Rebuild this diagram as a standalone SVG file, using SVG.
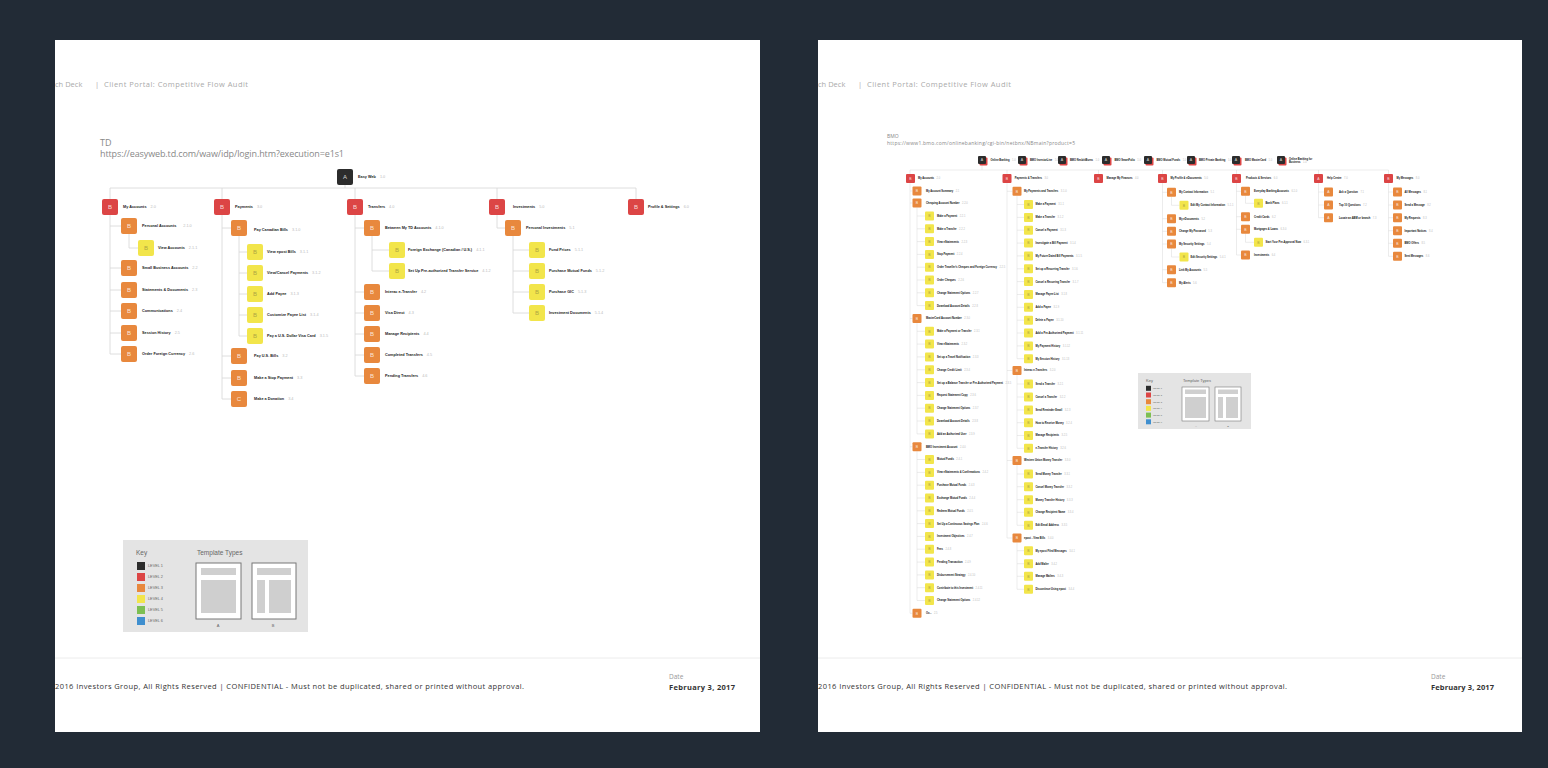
<svg xmlns="http://www.w3.org/2000/svg" width="1548" height="768" viewBox="0 0 1548 768">
<style>
.pg{fill:#fff}
.ln{fill:none;stroke:#d6d6d6;stroke-width:.8}
.lr{fill:none;stroke:#d9d9d9;stroke-width:.5}
.k1{fill:#2c2c2c}.k2{fill:#dc4545}.k3{fill:#e8883d}.k4{fill:#f2e54b}.k5{fill:#7dbf52}.k6{fill:#3f8fcf}
.L{font-family:"Liberation Sans",Arial,sans-serif;font-weight:bold;font-size:3.8px;fill:#222}
.R{font-family:"Liberation Sans",Arial,sans-serif;font-weight:bold;font-size:2.6px;fill:#111}
.n{font-weight:normal;fill:#bbb}
.bl{font-family:"Liberation Sans",Arial,sans-serif;font-size:6px;fill:#fff;fill-opacity:.8;text-anchor:middle}
.br{font-family:"Liberation Sans",Arial,sans-serif;font-size:3.5px;fill:#fff;fill-opacity:.8;text-anchor:middle}
.y{fill:#9a9340;fill-opacity:.8}
.pt{font-family:"Open Sans","Liberation Sans",sans-serif}
.hd{font-size:7.5px;fill:#aaa}
.ft{font-size:7.5px;fill:#333}
.kt{font-family:"Liberation Sans",Arial,sans-serif;fill:#666}
.tp{fill:#fff;stroke:#777}
.tg{fill:#cfcfcf}
</style>
<rect width="1548" height="768" fill="#222b36"/>
<rect class="pg" x="55" y="40" width="705" height="692"/>
<rect class="pg" x="818" y="40" width="704" height="692"/>

<!-- page chrome left -->
<g class="pt">
<text class="hd" x="55" y="87">ch Deck</text>
<text class="hd" x="95" y="87">|</text>
<text class="hd" x="104" y="87" textLength="144">Client Portal: Competitive Flow Audit</text>
<text x="100" y="145.7" font-size="9" fill="#888">TD</text>
<text x="100" y="156.5" font-size="9" fill="#888" textLength="244">https://easyweb.td.com/waw/idp/login.htm?execution=e1s1</text>
<line x1="55" y1="658" x2="760" y2="658" stroke="#ececec" stroke-width="1"/>
<text class="ft" x="55" y="688.5" textLength="469">2016 Investors Group, All Rights Reserved | CONFIDENTIAL - Must not be duplicated, shared or printed without approval.</text>
<text x="669" y="679" font-size="6.5" fill="#999">Date</text>
<text x="669" y="689.5" font-size="7.5" font-weight="bold" fill="#333" textLength="66">February 3, 2017</text>
</g>
<!-- page chrome right -->
<g class="pt">
<text class="hd" x="818" y="87">ch Deck</text>
<text class="hd" x="858" y="87">|</text>
<text class="hd" x="867" y="87" textLength="144">Client Portal: Competitive Flow Audit</text>
<text x="887" y="138" font-size="5" fill="#888">BMO</text>
<text x="887" y="145" font-size="5" fill="#888" textLength="188">https://www1.bmo.com/onlinebanking/cgi-bin/netbnx/NBmain?product=5</text>
<line x1="818" y1="658" x2="1522" y2="658" stroke="#ececec" stroke-width="1"/>
<text class="ft" x="818" y="688.5" textLength="469">2016 Investors Group, All Rights Reserved | CONFIDENTIAL - Must not be duplicated, shared or printed without approval.</text>
<text x="1431" y="679" font-size="6.5" fill="#999">Date</text>
<text x="1431" y="689.5" font-size="7.5" font-weight="bold" fill="#333" textLength="63">February 3, 2017</text>
</g>

<!-- connectors left -->
<g id="td-connectors" class="ln">
<path d="M345,185V188M110,188H636M110,188V354M222,188V399M355,188V376M497,188V228M636,188V199"/>
<path d="M110,226H121M110,268H121M110,290H121M110,311H121M110,333H121M110,354H121M129,234V248H138"/>
<path d="M222,228H231M222,356H231M222,378H231M222,399H231M239,236V336M239,252H247M239,273H247M239,294H247M239,315H247M239,336H247"/>
<path d="M355,228H364M355,292H364M355,313H364M355,334H364M355,355H364M355,376H364M372,236V271M372,250H389M372,271H389"/>
<path d="M497,228H505M513,236V313M513,250H529M513,271H529M513,292H529M513,313H529"/>
</g>

<!-- TD nodes -->
<g id="td-1-0"><rect class="k1" x="337" y="169" width="16" height="16" rx="2"/><text class="bl" x="345" y="179.1">A</text><text class="L" x="358" y="178.4">Easy Web<tspan class="n" dx="4">1.0</tspan></text></g>
<g id="td-2-0"><rect class="k2" x="102" y="199" width="16" height="16" rx="2"/><text class="bl" x="110" y="209.1">B</text><text class="L" x="123" y="208.4">My Accounts<tspan class="n" dx="4">2.0</tspan></text></g>
<g id="td-3-0"><rect class="k2" x="214" y="199" width="16" height="16" rx="2"/><text class="bl" x="222" y="209.1">B</text><text class="L" x="235" y="208.4">Payments<tspan class="n" dx="4">3.0</tspan></text></g>
<g id="td-4-0"><rect class="k2" x="347" y="199" width="16" height="16" rx="2"/><text class="bl" x="355" y="209.1">B</text><text class="L" x="368" y="208.4">Transfers<tspan class="n" dx="4">4.0</tspan></text></g>
<g id="td-5-0"><rect class="k2" x="489" y="199" width="16" height="16" rx="2"/><text class="bl" x="497" y="209.1">B</text><text class="L" x="513" y="208.4">Investments<tspan class="n" dx="4">5.0</tspan></text></g>
<g id="td-6-0"><rect class="k2" x="628" y="199" width="16" height="16" rx="2"/><text class="bl" x="636" y="209.1">B</text><text class="L" x="648" y="208.4">Profile &amp; Settings<tspan class="n" dx="4">6.0</tspan></text></g>

<g id="td-2-1-0"><rect class="k3" x="121" y="218" width="16" height="16" rx="2"/><text class="bl" x="129" y="228.1">B</text><text class="L" x="142" y="227.4">Personal Accounts<tspan class="n" dx="7">2.1.0</tspan></text></g>
<g id="td-2-1-1"><rect class="k4" x="138" y="240" width="16" height="16" rx="2"/><text class="bl y" x="146" y="250.1">B</text><text class="L" x="158" y="249.4">View Accounts<tspan class="n" dx="4">2.1.1</tspan></text></g>
<g id="td-2-2"><rect class="k3" x="121" y="260" width="16" height="16" rx="2"/><text class="bl" x="129" y="270.1">B</text><text class="L" x="142" y="269.4">Small Business Accounts<tspan class="n" dx="4">2.2</tspan></text></g>
<g id="td-2-3"><rect class="k3" x="121" y="282" width="16" height="16" rx="2"/><text class="bl" x="129" y="292.1">B</text><text class="L" x="142" y="291.4">Statements &amp; Documents<tspan class="n" dx="4">2.3</tspan></text></g>
<g id="td-2-4"><rect class="k3" x="121" y="303" width="16" height="16" rx="2"/><text class="bl" x="129" y="313.1">B</text><text class="L" x="142" y="312.4">Communications<tspan class="n" dx="4">2.4</tspan></text></g>
<g id="td-2-5"><rect class="k3" x="121" y="325" width="16" height="16" rx="2"/><text class="bl" x="129" y="335.1">B</text><text class="L" x="142" y="334.4">Session History<tspan class="n" dx="4">2.5</tspan></text></g>
<g id="td-2-6"><rect class="k3" x="121" y="346" width="16" height="16" rx="2"/><text class="bl" x="129" y="356.1">B</text><text class="L" x="142" y="355.4">Order Foreign Currency<tspan class="n" dx="4">2.6</tspan></text></g>

<g id="td-3-1-0"><rect class="k3" x="231" y="220" width="16" height="16" rx="2"/><text class="bl" x="239" y="230.1">B</text><text class="L" x="254" y="230.5">Pay Canadian Bills<tspan class="n" dx="4">3.1.0</tspan></text></g>
<g id="td-3-1-1"><rect class="k4" x="247" y="244" width="16" height="16" rx="2"/><text class="bl y" x="255" y="254.1">B</text><text class="L" x="267" y="253.4">View epost Bills<tspan class="n" dx="4">3.1.1</tspan></text></g>
<g id="td-3-1-2"><rect class="k4" x="247" y="265" width="16" height="16" rx="2"/><text class="bl y" x="255" y="275.1">B</text><text class="L" x="267" y="274.4">View/Cancel Payments<tspan class="n" dx="4">3.1.2</tspan></text></g>
<g id="td-3-1-3"><rect class="k4" x="247" y="286" width="16" height="16" rx="2"/><text class="bl y" x="255" y="296.1">B</text><text class="L" x="267" y="295.4">Add Payee<tspan class="n" dx="4">3.1.3</tspan></text></g>
<g id="td-3-1-4"><rect class="k4" x="247" y="307" width="16" height="16" rx="2"/><text class="bl y" x="255" y="317.1">B</text><text class="L" x="267" y="316.4">Customize Payee List<tspan class="n" dx="4">3.1.4</tspan></text></g>
<g id="td-3-1-5"><rect class="k4" x="247" y="328" width="16" height="16" rx="2"/><text class="bl y" x="255" y="338.1">B</text><text class="L" x="267" y="337.4">Pay a U.S. Dollar Visa Card<tspan class="n" dx="4">3.1.5</tspan></text></g>
<g id="td-3-2"><rect class="k3" x="231" y="348" width="16" height="16" rx="2"/><text class="bl" x="239" y="358.1">B</text><text class="L" x="254" y="357.4">Pay U.S. Bills<tspan class="n" dx="4">3.2</tspan></text></g>
<g id="td-3-3"><rect class="k3" x="231" y="370" width="16" height="16" rx="2"/><text class="bl" x="239" y="380.1">B</text><text class="L" x="254" y="379.4">Make a Stop Payment<tspan class="n" dx="4">3.3</tspan></text></g>
<g id="td-3-4"><rect class="k3" x="231" y="391" width="16" height="16" rx="2"/><text class="bl" x="239" y="401.1">C</text><text class="L" x="254" y="400.4">Make a Donation<tspan class="n" dx="4">3.4</tspan></text></g>

<g id="td-4-1-0"><rect class="k3" x="364" y="220" width="16" height="16" rx="2"/><text class="bl" x="372" y="230.1">B</text><text class="L" x="385" y="229.4">Between My TD Accounts<tspan class="n" dx="4">4.1.0</tspan></text></g>
<g id="td-4-1-1"><rect class="k4" x="389" y="242" width="16" height="16" rx="2"/><text class="bl y" x="397" y="252.1">B</text><text class="L" x="408" y="251.4">Foreign Exchange (Canadian / U.S.)<tspan class="n" dx="4">4.1.1</tspan></text></g>
<g id="td-4-1-2"><rect class="k4" x="389" y="263" width="16" height="16" rx="2"/><text class="bl y" x="397" y="273.1">B</text><text class="L" x="408" y="272.4">Set Up Pre-authorized Transfer Service<tspan class="n" dx="4">4.1.2</tspan></text></g>
<g id="td-4-2"><rect class="k3" x="364" y="284" width="16" height="16" rx="2"/><text class="bl" x="372" y="294.1">B</text><text class="L" x="385" y="293.4">Interac e-Transfer<tspan class="n" dx="4">4.2</tspan></text></g>
<g id="td-4-3"><rect class="k3" x="364" y="305" width="16" height="16" rx="2"/><text class="bl" x="372" y="315.1">B</text><text class="L" x="385" y="314.4">Visa Direct<tspan class="n" dx="4">4.3</tspan></text></g>
<g id="td-4-4"><rect class="k3" x="364" y="326" width="16" height="16" rx="2"/><text class="bl" x="372" y="336.1">B</text><text class="L" x="385" y="335.4">Manage Recipients<tspan class="n" dx="4">4.4</tspan></text></g>
<g id="td-4-5"><rect class="k3" x="364" y="347" width="16" height="16" rx="2"/><text class="bl" x="372" y="357.1">B</text><text class="L" x="385" y="356.4">Completed Transfers<tspan class="n" dx="4">4.5</tspan></text></g>
<g id="td-4-6"><rect class="k3" x="364" y="368" width="16" height="16" rx="2"/><text class="bl" x="372" y="378.1">B</text><text class="L" x="385" y="377.4">Pending Transfers<tspan class="n" dx="4">4.6</tspan></text></g>

<g id="td-5-1"><rect class="k3" x="505" y="220" width="16" height="16" rx="2"/><text class="bl" x="513" y="230.1">B</text><text class="L" x="526" y="229.4">Personal Investments<tspan class="n" dx="4">5.1</tspan></text></g>
<g id="td-5-1-1"><rect class="k4" x="529" y="242" width="16" height="16" rx="2"/><text class="bl y" x="537" y="252.1">B</text><text class="L" x="549" y="251.4">Fund Prices<tspan class="n" dx="4">5.1.1</tspan></text></g>
<g id="td-5-1-2"><rect class="k4" x="529" y="263" width="16" height="16" rx="2"/><text class="bl y" x="537" y="273.1">B</text><text class="L" x="549" y="272.4">Purchase Mutual Funds<tspan class="n" dx="4">5.1.2</tspan></text></g>
<g id="td-5-1-3"><rect class="k4" x="529" y="284" width="16" height="16" rx="2"/><text class="bl y" x="537" y="294.1">B</text><text class="L" x="549" y="293.4">Purchase GIC<tspan class="n" dx="4">5.1.3</tspan></text></g>
<g id="td-5-1-4"><rect class="k4" x="529" y="305" width="16" height="16" rx="2"/><text class="bl y" x="537" y="315.1">B</text><text class="L" x="549" y="314.4">Investment Documents<tspan class="n" dx="4">5.1.4</tspan></text></g>

<!-- key left -->
<g id="td-key">
<rect x="123" y="540" width="185" height="92" fill="#e4e4e4"/>
<text class="kt" x="136" y="555" font-size="6.5">Key</text>
<rect class="k1" x="137" y="562" width="8" height="8"/><text class="kt" x="148" y="567.2" font-size="3.8">LEVEL 1</text>
<rect class="k2" x="137" y="573" width="8" height="8"/><text class="kt" x="148" y="578.2" font-size="3.8">LEVEL 2</text>
<rect class="k3" x="137" y="584" width="8" height="8"/><text class="kt" x="148" y="589.2" font-size="3.8">LEVEL 3</text>
<rect class="k4" x="137" y="595" width="8" height="8"/><text class="kt" x="148" y="600.2" font-size="3.8">LEVEL 4</text>
<rect class="k5" x="137" y="606" width="8" height="8"/><text class="kt" x="148" y="611.2" font-size="3.8">LEVEL 5</text>
<rect class="k6" x="137" y="617" width="8" height="8"/><text class="kt" x="148" y="622.2" font-size="3.8">LEVEL 6</text>
<text class="kt" x="197" y="555" font-size="6.5">Template Types</text>
<rect class="tp" x="196" y="563" width="45" height="56"/><rect class="tg" x="201" y="568" width="35" height="7"/><rect class="tg" x="201" y="580" width="35" height="33"/>
<rect class="tp" x="252" y="563" width="44" height="56"/><rect class="tg" x="257" y="568" width="34" height="7"/><rect class="tg" x="257" y="580" width="8" height="33"/><rect class="tg" x="269" y="580" width="22" height="33"/>
<text class="kt" x="218" y="627" font-size="4" text-anchor="middle">A</text>
<text class="kt" x="273" y="627" font-size="4" text-anchor="middle">B</text>
</g>

<!-- connectors right -->
<g id="bmo-connectors" class="lr">
<path d="M982,164V170M910,170H1388.5M910,170V613.3M1007,170V538M1098.5,170V174M1162.5,170V282.7M1236.5,170V255M1318.5,170V217.7M1388.5,170V256.3"/>
<path d="M910,191H912.5M910,203H912.5M910,318.5H912.5M910,446.7H912.5M910,613.3H912.5"/>
<path d="M917,207.5V305.6M917,323V433.9M917,451.2V600.5"/>
<path d="M917,216H925M917,228.8H925M917,241.6H925M917,254.4H925M917,267.2H925M917,280H925M917,292.8H925M917,305.6H925"/>
<path d="M917,331.3H925M917,344.1H925M917,356.9H925M917,369.8H925M917,382.6H925M917,395.4H925M917,408.2H925M917,421H925M917,433.9H925"/>
<path d="M917,459.5H925M917,472.4H925M917,485.2H925M917,498H925M917,510.8H925M917,523.6H925M917,536.4H925M917,549.2H925M917,562.1H925M917,574.9H925M917,587.7H925M917,600.5H925"/>
<path d="M1007,191.3H1012.5M1007,370.5H1012.5M1007,460.5H1012.5M1007,538H1012.5"/>
<path d="M1017,195.8V358.7M1017,375V448.3M1017,465V525.3M1017,542.5V589.3"/>
<path d="M1017,204.5H1024M1017,217.4H1024M1017,230.2H1024M1017,243.1H1024M1017,255.9H1024M1017,268.8H1024M1017,281.6H1024M1017,294.5H1024M1017,307.3H1024M1017,320.2H1024M1017,333H1024M1017,345.9H1024M1017,358.7H1024"/>
<path d="M1017,384H1024M1017,397H1024M1017,410H1024M1017,422.7H1024M1017,435.5H1024M1017,448.3H1024M1017,474H1024M1017,486.7H1024M1017,499.7H1024M1017,512.3H1024M1017,525.3H1024"/>
<path d="M1017,550.7H1024M1017,563.7H1024M1017,576.3H1024M1017,589.3H1024"/>
<path d="M1162.5,192.3H1167M1162.5,218.7H1167M1162.5,231.3H1167M1162.5,244H1167M1162.5,269.7H1167M1162.5,282.7H1167M1171.5,196.8V205.3H1179.5M1171.5,248.5V257H1179.5"/>
<path d="M1236.5,191.3H1241M1236.5,216.7H1241M1236.5,229.3H1241M1236.5,255H1241M1245.5,195.8V203.3H1254M1245.5,233.8V242.3H1254"/>
<path d="M1318.5,192H1324M1318.5,205H1324M1318.5,217.7H1324"/>
<path d="M1388.5,192H1393M1388.5,205H1393M1388.5,217.7H1393M1388.5,230.7H1393M1388.5,243.3H1393M1388.5,256.3H1393"/>
</g>

<!-- BMO top-level nodes -->
<g id="bmo-1-online"><rect class="k2" x="979.5" y="157.5" width="8" height="8" rx="1"/><rect class="k1" x="978" y="156" width="8" height="8" rx="1"/><text class="br" x="982" y="161.2">A</text><text class="R" x="990.5" y="160.9">Online Banking<tspan class="n" dx="2.5">1.0</tspan></text></g>
<g id="bmo-1-investorline"><rect class="k2" x="1019.5" y="157.5" width="8" height="8" rx="1"/><rect class="k1" x="1018" y="156" width="8" height="8" rx="1"/><text class="br" x="1022" y="161.2">A</text><text class="R" x="1030" y="160.9">BMO InvestorLine<tspan class="n" dx="2.5">1.0</tspan></text></g>
<g id="bmo-1-nesbitt"><rect class="k2" x="1059.5" y="157.5" width="8" height="8" rx="1"/><rect class="k1" x="1058" y="156" width="8" height="8" rx="1"/><text class="br" x="1062" y="161.2">A</text><text class="R" x="1070" y="160.9">BMO NesbittBurns<tspan class="n" dx="2.5">1.0</tspan></text></g>
<g id="bmo-1-smartfolio"><rect class="k2" x="1103.5" y="157.5" width="8" height="8" rx="1"/><rect class="k1" x="1102" y="156" width="8" height="8" rx="1"/><text class="br" x="1106" y="161.2">A</text><text class="R" x="1114.5" y="160.9">BMO SmartFolio<tspan class="n" dx="2.5">1.0</tspan></text></g>
<g id="bmo-1-mutual"><rect class="k2" x="1145.5" y="157.5" width="8" height="8" rx="1"/><rect class="k1" x="1144" y="156" width="8" height="8" rx="1"/><text class="br" x="1148" y="161.2">A</text><text class="R" x="1156.5" y="160.9">BMO Mutual Funds<tspan class="n" dx="2.5">1.0</tspan></text></g>
<g id="bmo-1-private"><rect class="k2" x="1188.5" y="157.5" width="8" height="8" rx="1"/><rect class="k1" x="1187" y="156" width="8" height="8" rx="1"/><text class="br" x="1191" y="161.2">A</text><text class="R" x="1199" y="160.9">BMO Private Banking<tspan class="n" dx="2.5">1.0</tspan></text></g>
<g id="bmo-1-mastercard"><rect class="k2" x="1233.5" y="157.5" width="8" height="8" rx="1"/><rect class="k1" x="1232" y="156" width="8" height="8" rx="1"/><text class="br" x="1236" y="161.2">A</text><text class="R" x="1245" y="160.9">BMO MasterCard<tspan class="n" dx="2.5">1.0</tspan></text></g>
<g id="bmo-1-business"><rect class="k2" x="1278.5" y="157.5" width="8" height="8" rx="1"/><rect class="k1" x="1277" y="156" width="8" height="8" rx="1"/><text class="br" x="1281" y="161.2">A</text><text class="R" x="1289" y="159.7">Online Banking for</text><text class="R" x="1289" y="163.3">Business<tspan class="n" dx="2.5">1.0</tspan></text></g>

<!-- BMO level 2 -->
<g id="bmo-2-0"><rect class="k2" x="906" y="174" width="9" height="9" rx="1"/><text class="br" x="910.5" y="179.7">B</text><text class="R" x="918" y="179.4">My Accounts<tspan class="n" dx="2.5">2.0</tspan></text></g>
<g id="bmo-3-0"><rect class="k2" x="1002.5" y="174" width="9" height="9" rx="1"/><text class="br" x="1007" y="179.7">B</text><text class="R" x="1014.7" y="179.4">Payments &amp; Transfers<tspan class="n" dx="2.5">3.0</tspan></text></g>
<g id="bmo-4-0"><rect class="k2" x="1094" y="174" width="9" height="9" rx="1"/><text class="br" x="1098.5" y="179.7">B</text><text class="R" x="1106.5" y="179.4">Manage My Finances<tspan class="n" dx="2.5">4.0</tspan></text></g>
<g id="bmo-5-0"><rect class="k2" x="1158" y="174" width="9" height="9" rx="1"/><text class="br" x="1162.5" y="179.7">B</text><text class="R" x="1170.5" y="179.4">My Profile &amp; eDocuments<tspan class="n" dx="2.5">5.0</tspan></text></g>
<g id="bmo-6-0"><rect class="k2" x="1232" y="174" width="9" height="9" rx="1"/><text class="br" x="1236.5" y="179.7">B</text><text class="R" x="1246" y="179.4">Products &amp; Services<tspan class="n" dx="2.5">6.0</tspan></text></g>
<g id="bmo-7-0"><rect class="k2" x="1314" y="174" width="9" height="9" rx="1"/><text class="br" x="1318.5" y="179.7">A</text><text class="R" x="1327" y="179.4">Help Centre<tspan class="n" dx="2.5">7.0</tspan></text></g>
<g id="bmo-8-0"><rect class="k2" x="1384" y="174" width="9" height="9" rx="1"/><text class="br" x="1388.5" y="179.7">B</text><text class="R" x="1396.5" y="179.4">My Messages<tspan class="n" dx="2.5">8.0</tspan></text></g>

<!-- BMO My Accounts -->
<g id="bmo-2-1"><rect class="k3" x="912.5" y="186.5" width="9" height="9" rx="1"/><text class="br" x="917" y="192.2">B</text><text class="R" x="926" y="191.9">My Account Summary<tspan class="n" dx="2.5">2.1</tspan></text></g>
<g id="bmo-2-2-0"><rect class="k3" x="912.5" y="198.5" width="9" height="9" rx="1"/><text class="br" x="917" y="204.2">B</text><text class="R" x="926" y="203.9">Chequing Account Number<tspan class="n" dx="2.5">2.2.0</tspan></text></g>
<g id="bmo-2-2-1"><rect class="k4" x="925" y="211.5" width="9" height="9" rx="1"/><text class="br y" x="929.5" y="217.2">B</text><text class="R" x="937" y="216.9">Make a Payment<tspan class="n" dx="2.5">2.2.1</tspan></text></g>
<g id="bmo-2-2-2"><rect class="k4" x="925" y="224.3" width="9" height="9" rx="1"/><text class="br y" x="929.5" y="230">B</text><text class="R" x="937" y="229.7">Make a Transfer<tspan class="n" dx="2.5">2.2.2</tspan></text></g>
<g id="bmo-2-2-3"><rect class="k4" x="925" y="237.1" width="9" height="9" rx="1"/><text class="br y" x="929.5" y="242.8">B</text><text class="R" x="937" y="242.5">View eStatements<tspan class="n" dx="2.5">2.2.3</tspan></text></g>
<g id="bmo-2-2-4"><rect class="k4" x="925" y="249.9" width="9" height="9" rx="1"/><text class="br y" x="929.5" y="255.6">B</text><text class="R" x="937" y="255.3">Stop Payment<tspan class="n" dx="2.5">2.2.4</tspan></text></g>
<g id="bmo-2-2-5"><rect class="k4" x="925" y="262.7" width="9" height="9" rx="1"/><text class="br y" x="929.5" y="268.4">B</text><text class="R" x="937" y="268.1">Order Traveller's Cheques and Foreign Currency<tspan class="n" dx="2.5">2.2.5</tspan></text></g>
<g id="bmo-2-2-6"><rect class="k4" x="925" y="275.5" width="9" height="9" rx="1"/><text class="br y" x="929.5" y="281.2">B</text><text class="R" x="937" y="280.9">Order Cheques<tspan class="n" dx="2.5">2.2.6</tspan></text></g>
<g id="bmo-2-2-7"><rect class="k4" x="925" y="288.3" width="9" height="9" rx="1"/><text class="br y" x="929.5" y="294">B</text><text class="R" x="937" y="293.7">Change Statement Options<tspan class="n" dx="2.5">2.2.7</tspan></text></g>
<g id="bmo-2-2-8"><rect class="k4" x="925" y="301.1" width="9" height="9" rx="1"/><text class="br y" x="929.5" y="306.8">B</text><text class="R" x="937" y="306.5">Download Account Details<tspan class="n" dx="2.5">2.2.8</tspan></text></g>
<g id="bmo-2-3-0"><rect class="k3" x="912.5" y="314" width="9" height="9" rx="1"/><text class="br" x="917" y="319.7">B</text><text class="R" x="926" y="319.4">MasterCard Account Number<tspan class="n" dx="2.5">2.3.0</tspan></text></g>
<g id="bmo-2-3-1"><rect class="k4" x="925" y="326.8" width="9" height="9" rx="1"/><text class="br y" x="929.5" y="332.5">B</text><text class="R" x="937" y="332.2">Make a Payment or Transfer<tspan class="n" dx="2.5">2.3.1</tspan></text></g>
<g id="bmo-2-3-2"><rect class="k4" x="925" y="339.6" width="9" height="9" rx="1"/><text class="br y" x="929.5" y="345.3">B</text><text class="R" x="937" y="345">View eStatements<tspan class="n" dx="2.5">2.3.2</tspan></text></g>
<g id="bmo-2-3-3"><rect class="k4" x="925" y="352.4" width="9" height="9" rx="1"/><text class="br y" x="929.5" y="358.1">B</text><text class="R" x="937" y="357.8">Set up a Travel Notification<tspan class="n" dx="2.5">2.3.3</tspan></text></g>
<g id="bmo-2-3-4"><rect class="k4" x="925" y="365.3" width="9" height="9" rx="1"/><text class="br y" x="929.5" y="371">B</text><text class="R" x="937" y="370.7">Change Credit Limit<tspan class="n" dx="2.5">2.3.4</tspan></text></g>
<g id="bmo-2-3-5"><rect class="k4" x="925" y="378.1" width="9" height="9" rx="1"/><text class="br y" x="929.5" y="383.8">B</text><text class="R" x="937" y="383.5">Set up a Balance Transfer or Pre-Authorized Payment<tspan class="n" dx="2.5">2.3.5</tspan></text></g>
<g id="bmo-2-3-6"><rect class="k4" x="925" y="390.9" width="9" height="9" rx="1"/><text class="br y" x="929.5" y="396.6">B</text><text class="R" x="937" y="396.3">Request Statement Copy<tspan class="n" dx="2.5">2.3.6</tspan></text></g>
<g id="bmo-2-3-7"><rect class="k4" x="925" y="403.7" width="9" height="9" rx="1"/><text class="br y" x="929.5" y="409.4">B</text><text class="R" x="937" y="409.1">Change Statement Options<tspan class="n" dx="2.5">2.3.7</tspan></text></g>
<g id="bmo-2-3-8"><rect class="k4" x="925" y="416.5" width="9" height="9" rx="1"/><text class="br y" x="929.5" y="422.2">B</text><text class="R" x="937" y="421.9">Download Account Details<tspan class="n" dx="2.5">2.3.8</tspan></text></g>
<g id="bmo-2-3-9"><rect class="k4" x="925" y="429.4" width="9" height="9" rx="1"/><text class="br y" x="929.5" y="435.1">B</text><text class="R" x="937" y="434.8">Add an Authorized User<tspan class="n" dx="2.5">2.3.9</tspan></text></g>
<g id="bmo-2-4-0"><rect class="k3" x="912.5" y="442.2" width="9" height="9" rx="1"/><text class="br" x="917" y="447.9">B</text><text class="R" x="926" y="447.6">BMO Investment Account<tspan class="n" dx="2.5">2.4.0</tspan></text></g>
<g id="bmo-2-4-1"><rect class="k4" x="925" y="455" width="9" height="9" rx="1"/><text class="br y" x="929.5" y="460.7">B</text><text class="R" x="937" y="460.4">Mutual Funds<tspan class="n" dx="2.5">2.4.1</tspan></text></g>
<g id="bmo-2-4-2"><rect class="k4" x="925" y="467.9" width="9" height="9" rx="1"/><text class="br y" x="929.5" y="473.6">B</text><text class="R" x="937" y="473.3">View eStatements &amp; Confirmations<tspan class="n" dx="2.5">2.4.2</tspan></text></g>
<g id="bmo-2-4-3"><rect class="k4" x="925" y="480.7" width="9" height="9" rx="1"/><text class="br y" x="929.5" y="486.4">B</text><text class="R" x="937" y="486.1">Purchase Mutual Funds<tspan class="n" dx="2.5">2.4.3</tspan></text></g>
<g id="bmo-2-4-4"><rect class="k4" x="925" y="493.5" width="9" height="9" rx="1"/><text class="br y" x="929.5" y="499.2">B</text><text class="R" x="937" y="498.9">Exchange Mutual Funds<tspan class="n" dx="2.5">2.4.4</tspan></text></g>
<g id="bmo-2-4-5"><rect class="k4" x="925" y="506.3" width="9" height="9" rx="1"/><text class="br y" x="929.5" y="512">B</text><text class="R" x="937" y="511.7">Redeem Mutual Funds<tspan class="n" dx="2.5">2.4.5</tspan></text></g>
<g id="bmo-2-4-6"><rect class="k4" x="925" y="519.1" width="9" height="9" rx="1"/><text class="br y" x="929.5" y="524.8">B</text><text class="R" x="937" y="524.5">Set Up a Continuous Savings Plan<tspan class="n" dx="2.5">2.4.6</tspan></text></g>
<g id="bmo-2-4-7"><rect class="k4" x="925" y="531.9" width="9" height="9" rx="1"/><text class="br y" x="929.5" y="537.6">B</text><text class="R" x="937" y="537.3">Investment Objectives<tspan class="n" dx="2.5">2.4.7</tspan></text></g>
<g id="bmo-2-4-8"><rect class="k4" x="925" y="544.7" width="9" height="9" rx="1"/><text class="br y" x="929.5" y="550.4">B</text><text class="R" x="937" y="550.1">Fees<tspan class="n" dx="2.5">2.4.8</tspan></text></g>
<g id="bmo-2-4-9"><rect class="k4" x="925" y="557.6" width="9" height="9" rx="1"/><text class="br y" x="929.5" y="563.3">B</text><text class="R" x="937" y="563">Pending Transaction<tspan class="n" dx="2.5">2.4.9</tspan></text></g>
<g id="bmo-2-4-10"><rect class="k4" x="925" y="570.4" width="9" height="9" rx="1"/><text class="br y" x="929.5" y="576.1">B</text><text class="R" x="937" y="575.8">Disbursement Strategy<tspan class="n" dx="2.5">2.4.10</tspan></text></g>
<g id="bmo-2-4-11"><rect class="k4" x="925" y="583.2" width="9" height="9" rx="1"/><text class="br y" x="929.5" y="588.9">B</text><text class="R" x="937" y="588.6">Contribute to this Investment<tspan class="n" dx="2.5">2.4.11</tspan></text></g>
<g id="bmo-2-4-12"><rect class="k4" x="925" y="596" width="9" height="9" rx="1"/><text class="br y" x="929.5" y="601.7">B</text><text class="R" x="937" y="601.4">Change Statement Options<tspan class="n" dx="2.5">2.4.12</tspan></text></g>
<g id="bmo-2-5"><rect class="k3" x="912.5" y="608.8" width="9" height="9" rx="1"/><text class="br" x="917" y="614.5">B</text><text class="R" x="926" y="614.2">Ov...<tspan class="n" dx="2.5">2.5</tspan></text></g>

<!-- BMO Payments & Transfers -->
<g id="bmo-3-1-0"><rect class="k3" x="1012.5" y="186.8" width="9" height="9" rx="1"/><text class="br" x="1017" y="192.5">B</text><text class="R" x="1024" y="192.2">My Payments and Transfers<tspan class="n" dx="2.5">3.1.0</tspan></text></g>
<g id="bmo-3-1-1"><rect class="k4" x="1024" y="200" width="9" height="9" rx="1"/><text class="br y" x="1028.5" y="205.7">B</text><text class="R" x="1035.5" y="205.4">Make a Payment<tspan class="n" dx="2.5">3.1.1</tspan></text></g>
<g id="bmo-3-1-2"><rect class="k4" x="1024" y="212.9" width="9" height="9" rx="1"/><text class="br y" x="1028.5" y="218.6">B</text><text class="R" x="1035.5" y="218.3">Make a Transfer<tspan class="n" dx="2.5">3.1.2</tspan></text></g>
<g id="bmo-3-1-3"><rect class="k4" x="1024" y="225.7" width="9" height="9" rx="1"/><text class="br y" x="1028.5" y="231.4">B</text><text class="R" x="1035.5" y="231.1">Cancel a Payment<tspan class="n" dx="2.5">3.1.3</tspan></text></g>
<g id="bmo-3-1-4"><rect class="k4" x="1024" y="238.6" width="9" height="9" rx="1"/><text class="br y" x="1028.5" y="244.3">B</text><text class="R" x="1035.5" y="244">Investigate a Bill Payment<tspan class="n" dx="2.5">3.1.4</tspan></text></g>
<g id="bmo-3-1-5"><rect class="k4" x="1024" y="251.4" width="9" height="9" rx="1"/><text class="br y" x="1028.5" y="257.1">B</text><text class="R" x="1035.5" y="256.8">My Future Dated Bill Payments<tspan class="n" dx="2.5">3.1.5</tspan></text></g>
<g id="bmo-3-1-6"><rect class="k4" x="1024" y="264.3" width="9" height="9" rx="1"/><text class="br y" x="1028.5" y="270">B</text><text class="R" x="1035.5" y="269.7">Set up a Recurring Transfer<tspan class="n" dx="2.5">3.1.6</tspan></text></g>
<g id="bmo-3-1-7"><rect class="k4" x="1024" y="277.1" width="9" height="9" rx="1"/><text class="br y" x="1028.5" y="282.8">B</text><text class="R" x="1035.5" y="282.5">Cancel a Recurring Transfer<tspan class="n" dx="2.5">3.1.7</tspan></text></g>
<g id="bmo-3-1-8"><rect class="k4" x="1024" y="290" width="9" height="9" rx="1"/><text class="br y" x="1028.5" y="295.7">B</text><text class="R" x="1035.5" y="295.4">Manage Payee List<tspan class="n" dx="2.5">3.1.8</tspan></text></g>
<g id="bmo-3-1-9"><rect class="k4" x="1024" y="302.8" width="9" height="9" rx="1"/><text class="br y" x="1028.5" y="308.5">B</text><text class="R" x="1035.5" y="308.2">Add a Payee<tspan class="n" dx="2.5">3.1.9</tspan></text></g>
<g id="bmo-3-1-10"><rect class="k4" x="1024" y="315.7" width="9" height="9" rx="1"/><text class="br y" x="1028.5" y="321.4">B</text><text class="R" x="1035.5" y="321.1">Delete a Payee<tspan class="n" dx="2.5">3.1.10</tspan></text></g>
<g id="bmo-3-1-11"><rect class="k4" x="1024" y="328.5" width="9" height="9" rx="1"/><text class="br y" x="1028.5" y="334.2">B</text><text class="R" x="1035.5" y="333.9">Add a Pre-Authorized Payment<tspan class="n" dx="2.5">3.1.11</tspan></text></g>
<g id="bmo-3-1-12"><rect class="k4" x="1024" y="341.4" width="9" height="9" rx="1"/><text class="br y" x="1028.5" y="347.1">B</text><text class="R" x="1035.5" y="346.8">My Payment History<tspan class="n" dx="2.5">3.1.12</tspan></text></g>
<g id="bmo-3-1-13"><rect class="k4" x="1024" y="354.2" width="9" height="9" rx="1"/><text class="br y" x="1028.5" y="359.9">B</text><text class="R" x="1035.5" y="359.6">My Session History<tspan class="n" dx="2.5">3.1.13</tspan></text></g>
<g id="bmo-3-2-0"><rect class="k3" x="1012.5" y="366" width="9" height="9" rx="1"/><text class="br" x="1017" y="371.7">B</text><text class="R" x="1024" y="371.4">Interac e-Transfers<tspan class="n" dx="2.5">3.2.0</tspan></text></g>
<g id="bmo-3-2-1"><rect class="k4" x="1024" y="379.5" width="9" height="9" rx="1"/><text class="br y" x="1028.5" y="385.2">B</text><text class="R" x="1035.5" y="384.9">Send a Transfer<tspan class="n" dx="2.5">3.2.1</tspan></text></g>
<g id="bmo-3-2-2"><rect class="k4" x="1024" y="392.5" width="9" height="9" rx="1"/><text class="br y" x="1028.5" y="398.2">B</text><text class="R" x="1035.5" y="397.9">Cancel a Transfer<tspan class="n" dx="2.5">3.2.2</tspan></text></g>
<g id="bmo-3-2-3"><rect class="k4" x="1024" y="405.5" width="9" height="9" rx="1"/><text class="br y" x="1028.5" y="411.2">B</text><text class="R" x="1035.5" y="410.9">Send Reminder Email<tspan class="n" dx="2.5">3.2.3</tspan></text></g>
<g id="bmo-3-2-4"><rect class="k4" x="1024" y="418.2" width="9" height="9" rx="1"/><text class="br y" x="1028.5" y="423.9">B</text><text class="R" x="1035.5" y="423.6">How to Receive Money<tspan class="n" dx="2.5">3.2.4</tspan></text></g>
<g id="bmo-3-2-5"><rect class="k4" x="1024" y="431" width="9" height="9" rx="1"/><text class="br y" x="1028.5" y="436.7">B</text><text class="R" x="1035.5" y="436.4">Manage Recipients<tspan class="n" dx="2.5">3.2.5</tspan></text></g>
<g id="bmo-3-2-6"><rect class="k4" x="1024" y="443.8" width="9" height="9" rx="1"/><text class="br y" x="1028.5" y="449.5">B</text><text class="R" x="1035.5" y="449.2">e-Transfer History<tspan class="n" dx="2.5">3.2.6</tspan></text></g>
<g id="bmo-3-3-0"><rect class="k3" x="1012.5" y="456" width="9" height="9" rx="1"/><text class="br" x="1017" y="461.7">B</text><text class="R" x="1024" y="461.4">Western Union Money Transfer<tspan class="n" dx="2.5">3.3.0</tspan></text></g>
<g id="bmo-3-3-1"><rect class="k4" x="1024" y="469.5" width="9" height="9" rx="1"/><text class="br y" x="1028.5" y="475.2">B</text><text class="R" x="1035.5" y="474.9">Send Money Transfer<tspan class="n" dx="2.5">3.3.1</tspan></text></g>
<g id="bmo-3-3-2"><rect class="k4" x="1024" y="482.2" width="9" height="9" rx="1"/><text class="br y" x="1028.5" y="487.9">B</text><text class="R" x="1035.5" y="487.6">Cancel Money Transfer<tspan class="n" dx="2.5">3.3.2</tspan></text></g>
<g id="bmo-3-3-3"><rect class="k4" x="1024" y="495.2" width="9" height="9" rx="1"/><text class="br y" x="1028.5" y="500.9">B</text><text class="R" x="1035.5" y="500.6">Money Transfer History<tspan class="n" dx="2.5">3.3.3</tspan></text></g>
<g id="bmo-3-3-4"><rect class="k4" x="1024" y="507.8" width="9" height="9" rx="1"/><text class="br y" x="1028.5" y="513.5">B</text><text class="R" x="1035.5" y="513.2">Change Recipient Name<tspan class="n" dx="2.5">3.3.4</tspan></text></g>
<g id="bmo-3-3-5"><rect class="k4" x="1024" y="520.8" width="9" height="9" rx="1"/><text class="br y" x="1028.5" y="526.5">B</text><text class="R" x="1035.5" y="526.2">Edit Email Address<tspan class="n" dx="2.5">3.3.5</tspan></text></g>
<g id="bmo-3-4-0"><rect class="k3" x="1012.5" y="533.5" width="9" height="9" rx="1"/><text class="br" x="1017" y="539.2">B</text><text class="R" x="1024" y="538.9">epost - View Bills<tspan class="n" dx="2.5">3.4.0</tspan></text></g>
<g id="bmo-3-4-1"><rect class="k4" x="1024" y="546.2" width="9" height="9" rx="1"/><text class="br y" x="1028.5" y="551.9">B</text><text class="R" x="1035.5" y="551.6">My epost Filed Messages<tspan class="n" dx="2.5">3.4.1</tspan></text></g>
<g id="bmo-3-4-2"><rect class="k4" x="1024" y="559.2" width="9" height="9" rx="1"/><text class="br y" x="1028.5" y="564.9">B</text><text class="R" x="1035.5" y="564.6">Add Mailer<tspan class="n" dx="2.5">3.4.2</tspan></text></g>
<g id="bmo-3-4-3"><rect class="k4" x="1024" y="571.8" width="9" height="9" rx="1"/><text class="br y" x="1028.5" y="577.5">B</text><text class="R" x="1035.5" y="577.2">Manage Mailers<tspan class="n" dx="2.5">3.4.3</tspan></text></g>
<g id="bmo-3-4-4"><rect class="k4" x="1024" y="584.8" width="9" height="9" rx="1"/><text class="br y" x="1028.5" y="590.5">B</text><text class="R" x="1035.5" y="590.2">Discontinue Using epost<tspan class="n" dx="2.5">3.4.4</tspan></text></g>

<!-- BMO Profile -->
<g id="bmo-5-1"><rect class="k3" x="1167" y="187.8" width="9" height="9" rx="1"/><text class="br" x="1171.5" y="193.5">B</text><text class="R" x="1179" y="193.2">My Contact Information<tspan class="n" dx="2.5">5.1</tspan></text></g>
<g id="bmo-5-1-1"><rect class="k4" x="1179.5" y="200.8" width="9" height="9" rx="1"/><text class="br y" x="1184" y="206.5">B</text><text class="R" x="1190.5" y="206.2">Edit My Contact Information<tspan class="n" dx="2.5">5.1.1</tspan></text></g>
<g id="bmo-5-2"><rect class="k3" x="1167" y="214.2" width="9" height="9" rx="1"/><text class="br" x="1171.5" y="219.9">B</text><text class="R" x="1179" y="219.6">My eDocuments<tspan class="n" dx="2.5">5.2</tspan></text></g>
<g id="bmo-5-3"><rect class="k3" x="1167" y="226.8" width="9" height="9" rx="1"/><text class="br" x="1171.5" y="232.5">B</text><text class="R" x="1179" y="232.2">Change My Password<tspan class="n" dx="2.5">5.3</tspan></text></g>
<g id="bmo-5-4"><rect class="k3" x="1167" y="239.5" width="9" height="9" rx="1"/><text class="br" x="1171.5" y="245.2">B</text><text class="R" x="1179" y="244.9">My Security Settings<tspan class="n" dx="2.5">5.4</tspan></text></g>
<g id="bmo-5-4-1"><rect class="k4" x="1179.5" y="252.5" width="9" height="9" rx="1"/><text class="br y" x="1184" y="258.2">B</text><text class="R" x="1190.5" y="257.9">Edit Security Settings<tspan class="n" dx="2.5">5.4.1</tspan></text></g>
<g id="bmo-5-5"><rect class="k3" x="1167" y="265.2" width="9" height="9" rx="1"/><text class="br" x="1171.5" y="270.9">B</text><text class="R" x="1179" y="270.6">Link My Accounts<tspan class="n" dx="2.5">5.5</tspan></text></g>
<g id="bmo-5-6"><rect class="k3" x="1167" y="278.2" width="9" height="9" rx="1"/><text class="br" x="1171.5" y="283.9">B</text><text class="R" x="1179" y="283.6">My Alerts<tspan class="n" dx="2.5">5.6</tspan></text></g>

<!-- BMO Products -->
<g id="bmo-6-1-0"><rect class="k3" x="1241" y="186.8" width="9" height="9" rx="1"/><text class="br" x="1245.5" y="192.5">B</text><text class="R" x="1254" y="192.2">Everyday Banking Accounts<tspan class="n" dx="2.5">6.1.0</tspan></text></g>
<g id="bmo-6-1-1"><rect class="k4" x="1254" y="198.8" width="9" height="9" rx="1"/><text class="br y" x="1258.5" y="204.5">B</text><text class="R" x="1265.5" y="204.2">Bank Plans<tspan class="n" dx="2.5">6.1.1</tspan></text></g>
<g id="bmo-6-2"><rect class="k3" x="1241" y="212.2" width="9" height="9" rx="1"/><text class="br" x="1245.5" y="217.9">B</text><text class="R" x="1254" y="217.6">Credit Cards<tspan class="n" dx="2.5">6.2</tspan></text></g>
<g id="bmo-6-3-0"><rect class="k3" x="1241" y="224.8" width="9" height="9" rx="1"/><text class="br" x="1245.5" y="230.5">B</text><text class="R" x="1254" y="230.2">Mortgages &amp; Loans<tspan class="n" dx="2.5">6.3.0</tspan></text></g>
<g id="bmo-6-3-1"><rect class="k4" x="1254" y="237.8" width="9" height="9" rx="1"/><text class="br y" x="1258.5" y="243.5">B</text><text class="R" x="1265.5" y="243.2">Start Your Pre-Approval Now<tspan class="n" dx="2.5">6.3.1</tspan></text></g>
<g id="bmo-6-4"><rect class="k3" x="1241" y="250.5" width="9" height="9" rx="1"/><text class="br" x="1245.5" y="256.2">B</text><text class="R" x="1254" y="255.9">Investments<tspan class="n" dx="2.5">6.4</tspan></text></g>

<!-- BMO Help -->
<g id="bmo-7-1"><rect class="k3" x="1324" y="187.5" width="9" height="9" rx="1"/><text class="br" x="1328.5" y="193.2">A</text><text class="R" x="1339" y="192.9">Ask a Question<tspan class="n" dx="2.5">7.1</tspan></text></g>
<g id="bmo-7-2"><rect class="k3" x="1324" y="200.5" width="9" height="9" rx="1"/><text class="br" x="1328.5" y="206.2">A</text><text class="R" x="1339" y="205.9">Top 10 Questions<tspan class="n" dx="2.5">7.2</tspan></text></g>
<g id="bmo-7-3"><rect class="k3" x="1324" y="213.2" width="9" height="9" rx="1"/><text class="br" x="1328.5" y="218.9">A</text><text class="R" x="1339" y="218.6">Locate an ABM or branch<tspan class="n" dx="2.5">7.3</tspan></text></g>

<!-- BMO Messages -->
<g id="bmo-8-1"><rect class="k3" x="1393" y="187.5" width="9" height="9" rx="1"/><text class="br" x="1397.5" y="193.2">B</text><text class="R" x="1404.5" y="192.9">All Messages<tspan class="n" dx="2.5">8.1</tspan></text></g>
<g id="bmo-8-2"><rect class="k3" x="1393" y="200.5" width="9" height="9" rx="1"/><text class="br" x="1397.5" y="206.2">B</text><text class="R" x="1404.5" y="205.9">Send a Message<tspan class="n" dx="2.5">8.2</tspan></text></g>
<g id="bmo-8-3"><rect class="k3" x="1393" y="213.2" width="9" height="9" rx="1"/><text class="br" x="1397.5" y="218.9">B</text><text class="R" x="1404.5" y="218.6">My Requests<tspan class="n" dx="2.5">8.3</tspan></text></g>
<g id="bmo-8-4"><rect class="k3" x="1393" y="226.2" width="9" height="9" rx="1"/><text class="br" x="1397.5" y="231.9">B</text><text class="R" x="1404.5" y="231.6">Important Notices<tspan class="n" dx="2.5">8.4</tspan></text></g>
<g id="bmo-8-5"><rect class="k3" x="1393" y="238.8" width="9" height="9" rx="1"/><text class="br" x="1397.5" y="244.5">B</text><text class="R" x="1404.5" y="244.2">BMO Offers<tspan class="n" dx="2.5">8.5</tspan></text></g>
<g id="bmo-8-6"><rect class="k3" x="1393" y="251.8" width="9" height="9" rx="1"/><text class="br" x="1397.5" y="257.5">B</text><text class="R" x="1404.5" y="257.2">Sent Messages<tspan class="n" dx="2.5">8.6</tspan></text></g>

<!-- key right -->
<g id="bmo-key">
<rect x="1138" y="373" width="113" height="56" fill="#e4e4e4"/>
<text class="kt" x="1146" y="382" font-size="4">Key</text>
<rect class="k1" x="1146" y="385.8" width="5" height="5"/><text class="kt" x="1153" y="389.1" font-size="2.3">LEVEL 1</text>
<rect class="k2" x="1146" y="392.5" width="5" height="5"/><text class="kt" x="1153" y="395.8" font-size="2.3">LEVEL 2</text>
<rect class="k3" x="1146" y="399.2" width="5" height="5"/><text class="kt" x="1153" y="402.5" font-size="2.3">LEVEL 3</text>
<rect class="k4" x="1146" y="405.9" width="5" height="5"/><text class="kt" x="1153" y="409.2" font-size="2.3">LEVEL 4</text>
<rect class="k5" x="1146" y="412.6" width="5" height="5"/><text class="kt" x="1153" y="415.9" font-size="2.3">LEVEL 5</text>
<rect class="k6" x="1146" y="419.3" width="5" height="5"/><text class="kt" x="1153" y="422.6" font-size="2.3">LEVEL 6</text>
<text class="kt" x="1183" y="382" font-size="4">Template Types</text>
<rect class="tp" x="1182" y="387" width="27" height="34" stroke-width=".6"/><rect class="tg" x="1185" y="389.5" width="21" height="4.5"/><rect class="tg" x="1185" y="397" width="21" height="21"/>
<rect class="tp" x="1215" y="387" width="26" height="34" stroke-width=".6"/><rect class="tg" x="1218" y="389.5" width="20" height="4.5"/><rect class="tg" x="1218" y="397" width="5" height="21"/><rect class="tg" x="1226" y="397" width="12" height="21"/>
<text class="kt" x="1196" y="426.5" font-size="2.5" text-anchor="middle">A</text>
<text class="kt" x="1228" y="426.5" font-size="2.5" text-anchor="middle">B</text>
</g>
</svg>
